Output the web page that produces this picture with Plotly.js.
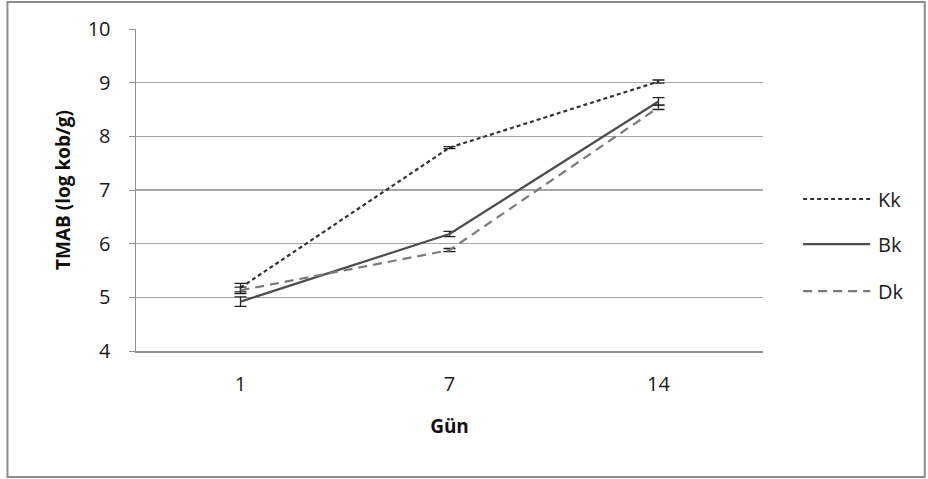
<!DOCTYPE html>
<html>
<head>
<meta charset="utf-8">
<script src="https://cdn.plot.ly/plotly-3.0.1.min.js"></script>
<style>
  html, body { margin: 0; padding: 0; background: #ffffff; }
  #chart { width: 928px; height: 479px; }
</style>
</head>
<body>
<div id="chart"></div>
<script>
// Sampling days and total mesophilic aerobic bacteria counts (log kob/g)
const days = ['1', '7', '14'];
const seriesNames = ['Kk', 'Bk', 'Dk'];
const kkValues = [5.18, 7.79, 9.02];
const kkErrors = [0.08, 0.02, 0.03];
const bkValues = [4.92, 6.18, 8.65];
const bkErrors = [0.09, 0.05, 0.07];
const dkValues = [5.13, 5.88, 8.54];
const dkErrors = [0.06, 0.03, 0.04];

const font = 'Open Sans, Liberation Sans, sans-serif';
const styles = {
  Kk: { color: '#333333', dash: '4px,3px' },
  Bk: { color: '#4d4d4d', dash: 'solid' },
  Dk: { color: '#7a7a7a', dash: '9px,6px' }
};

function series(name, values, errors) {
  const s = styles[name];
  return {
    type: 'scatter',
    mode: 'lines',
    name: name,
    x: days,
    y: values,
    line: { color: s.color, width: 2.2, dash: s.dash },
    error_y: { type: 'data', array: errors, visible: true, color: '#222222', thickness: 1.3, width: 6 },
    showlegend: false,
    hoverinfo: 'x+y+name'
  };
}

const traces = [
  series('Kk', kkValues, kkErrors),
  series('Bk', bkValues, bkErrors),
  series('Dk', dkValues, dkErrors)
];

// Legend drawn beside the plot: line sample plus label per series
const legendY = [0.472, 0.332, 0.186];
const shapes = [
  // outer chart frame
  { type: 'rect', xref: 'paper', yref: 'paper', x0: -0.205, x1: 1.258, y0: -0.391, y1: 1.084,
    line: { color: '#8c8c8c', width: 2 }, fillcolor: 'rgba(0,0,0,0)', layer: 'below' }
];
const annotations = [];
seriesNames.forEach((n, i) => {
  const s = styles[n];
  shapes.push({ type: 'line', xref: 'paper', yref: 'paper', x0: 1.064, x1: 1.171, y0: legendY[i], y1: legendY[i],
    line: { color: s.color, width: 2.2, dash: s.dash } });
  annotations.push({ xref: 'paper', yref: 'paper', x: 1.181, y: legendY[i], xanchor: 'left', yanchor: 'middle',
    text: n, showarrow: false, font: { family: font, size: 20, color: '#1a1a1a' } });
});

const layout = {
  width: 928,
  height: 479,
  margin: { l: 136, r: 165, t: 29, b: 128 },
  paper_bgcolor: '#ffffff',
  plot_bgcolor: '#ffffff',
  showlegend: false,
  font: { family: font, color: '#1a1a1a' },
  xaxis: {
    type: 'category',
    range: [-0.5, 2.5],
    showgrid: false,
    showline: true,
    linecolor: '#8f8f8f',
    linewidth: 1.5,
    ticks: '',
    ticklabelstandoff: 14,
    tickfont: { family: font, size: 20, color: '#1a1a1a' },
    title: { text: '<b>Gün</b>', font: { family: font, size: 19, color: '#111111' }, standoff: 24 },
    zeroline: false
  },
  yaxis: {
    range: [4, 10],
    dtick: 1,
    showgrid: true,
    gridcolor: '#a6a6a6',
    gridwidth: 1.3,
    showline: true,
    linecolor: '#8f8f8f',
    linewidth: 1.5,
    ticks: 'outside',
    ticklen: 6,
    tickcolor: '#8f8f8f',
    ticklabelstandoff: 14,
    tickfont: { family: font, size: 20, color: '#1a1a1a' },
    title: { text: '<b>TMAB (log kob/g)</b>', font: { family: font, size: 19, color: '#111111' }, standoff: 12 },
    zeroline: false
  },
  shapes: shapes,
  annotations: annotations
};

Plotly.newPlot('chart', traces, layout, { displayModeBar: false, staticPlot: true });
</script>
</body>
</html>
